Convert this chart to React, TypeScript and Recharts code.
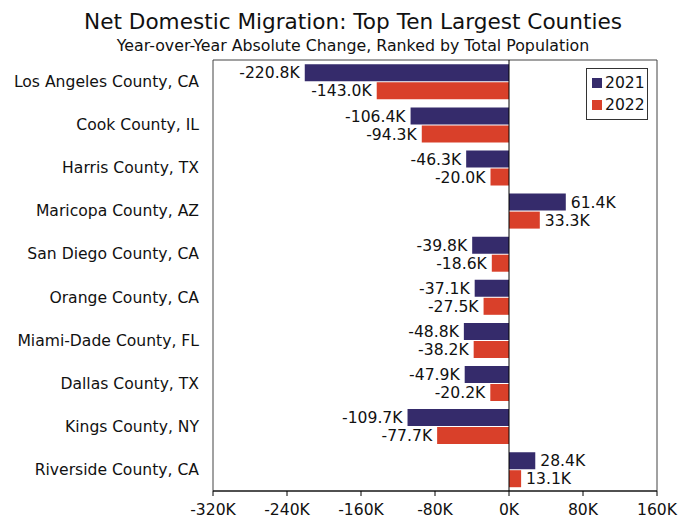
import React from 'react';
import { BarChart, Bar, XAxis, YAxis, ReferenceLine, ReferenceArea, LabelList } from 'recharts';

const counties = [
  'Los Angeles County, CA',
  'Cook County, IL',
  'Harris County, TX',
  'Maricopa County, AZ',
  'San Diego County, CA',
  'Orange County, CA',
  'Miami-Dade County, FL',
  'Dallas County, TX',
  'Kings County, NY',
  'Riverside County, CA',
];
// net domestic migration, thousands
const values2021 = [-220.8, -106.4, -46.3, 61.4, -39.8, -37.1, -48.8, -47.9, -109.7, 28.4];
const values2022 = [-143.0, -94.3, -20.0, 33.3, -18.6, -27.5, -38.2, -20.2, -77.7, 13.1];
const xTicks = [-320, -240, -160, -80, 0, 80, 160];

const COLOR_2021 = '#352B6B';
const COLOR_2022 = '#D9402A';
const FONT = '"DejaVu Sans", Verdana, sans-serif';
const FS = 15.6;

const rows = counties.map((name, i) => ({ name, y2021: values2021[i], y2022: values2022[i] }));

const BarLabel = (props: any) => {
  const { x, y, width, height, value } = props;
  const left = Math.min(x, x + width);
  const right = Math.max(x, x + width);
  const neg = value < 0;
  return (
    <text
      x={neg ? left - 5 : right + 5}
      y={y + height / 2}
      dy="0.36em"
      textAnchor={neg ? 'end' : 'start'}
      fontSize={FS}
      fontFamily={FONT}
      fill="#111"
    >
      {`${value.toFixed(1)}K`}
    </text>
  );
};

const LegendBox = () => (
  <div
    style={{
      position: 'absolute',
      left: 586,
      top: 68,
      width: 55,
      padding: '3px 0 3px 5px',
      border: '1px solid #333',
      background: '#fff',
      fontFamily: FONT,
      fontSize: FS,
      color: '#111',
      lineHeight: '22px',
    }}
  >
    {[['2021', COLOR_2021], ['2022', COLOR_2022]].map(([label, c]) => (
      <div key={label} style={{ display: 'flex', alignItems: 'center' }}>
        <span style={{ display: 'inline-block', width: 10, height: 10, background: c, marginRight: 3 }} />
        {label}
      </div>
    ))}
  </div>
);

export default function App() {
  return (
    <div style={{ position: 'absolute', left: 0, top: 0, width: 680, height: 520, background: '#fff', fontFamily: FONT }}>
      <div style={{ position: 'absolute', left: 0, width: 706, top: 9, textAlign: 'center', fontSize: 21.6, color: '#111' }}>
        Net Domestic Migration: Top Ten Largest Counties
      </div>
      <div style={{ position: 'absolute', left: 0, width: 706, top: 36, textAlign: 'center', fontSize: 15.8, color: '#111' }}>
        Year-over-Year Absolute Change, Ranked by Total Population
      </div>
      <BarChart
        width={680}
        height={520}
        data={rows}
        layout="vertical"
        margin={{ top: 60, right: 23, bottom: 0, left: 0 }}
        barCategoryGap="10%"
        barGap={1}
      >
        <ReferenceArea x1={-320} x2={160} fill="none" stroke="#444" strokeWidth={1} ifOverflow="visible" />
        <XAxis
          type="number"
          domain={[-320, 160]}
          ticks={xTicks}
          tickFormatter={(v: number) => `${v}K`}
          height={29}
          tickSize={5}
          tickMargin={8}
          stroke="#000"
          tick={{ fontSize: FS, fontFamily: FONT, fill: '#111' }}
          interval={0}
        />
        <YAxis
          type="category"
          dataKey="name"
          width={213}
          axisLine={false}
          tickLine={false}
          tickMargin={8}
          tick={{ fontSize: FS, fontFamily: FONT, fill: '#111' }}
          interval={0}
        />
        <ReferenceLine x={0} stroke="#000" strokeWidth={1} />
        <Bar dataKey="y2021" name="2021" fill={COLOR_2021} isAnimationActive={false}>
          <LabelList dataKey="y2021" content={<BarLabel />} />
        </Bar>
        <Bar dataKey="y2022" name="2022" fill={COLOR_2022} isAnimationActive={false}>
          <LabelList dataKey="y2022" content={<BarLabel />} />
        </Bar>
      </BarChart>
      <LegendBox />
    </div>
  );
}
